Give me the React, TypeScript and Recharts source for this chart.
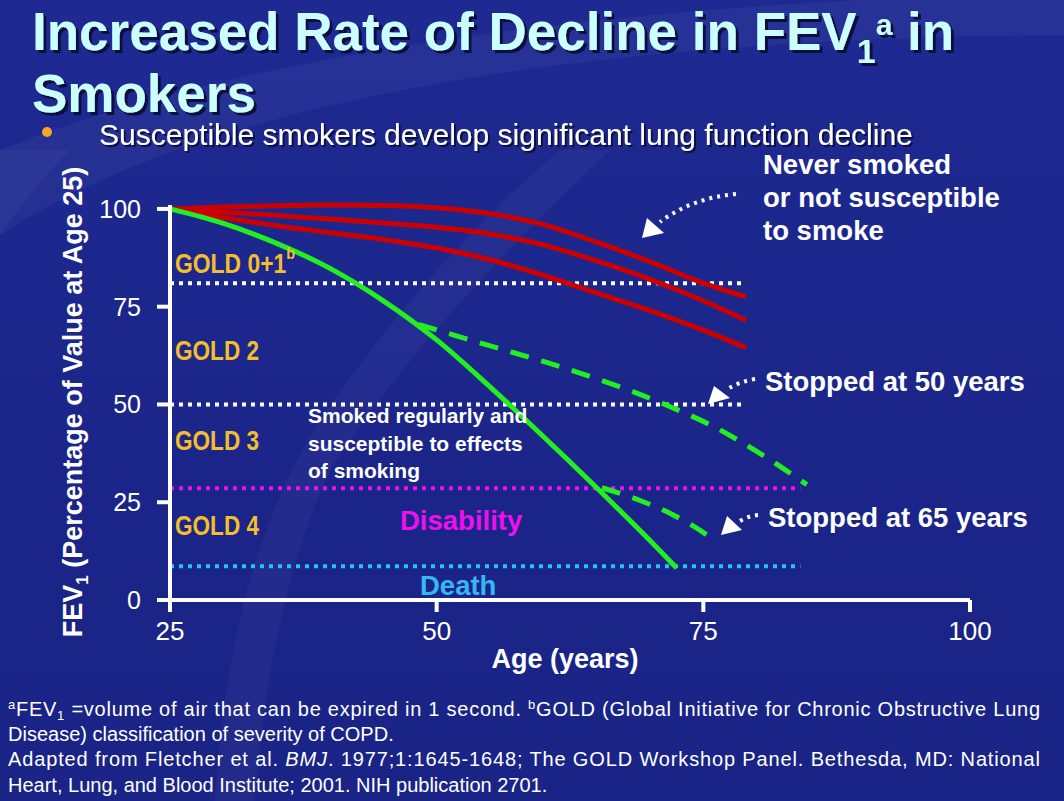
import { LineChart, Line, XAxis, YAxis, ReferenceLine } from 'recharts'

// never smoked / not susceptible (three red curves)
const neverAges = [25, 30, 35, 40, 45, 50, 55, 60, 65, 70, 75, 79]
const neverTop = [100, 100.5, 100.8, 101, 100.9, 100.3, 98.8, 96, 91.5, 86.5, 81, 77.5]
const neverMid = [100, 99.2, 98.3, 97.4, 96.4, 95.3, 93.6, 90.8, 86.7, 82, 76.5, 71.5]
const neverLow = [100, 97.8, 95.7, 93.9, 92.2, 90, 87, 83, 78.5, 74, 69, 64.5]

// smoked regularly and susceptible
const smokerAges = [25, 30, 35, 40, 45, 50, 55, 60, 65, 70, 72.5]
const smokerFev = [100, 96.3, 91.2, 84.8, 76.5, 66.5, 54.5, 41.8, 28.7, 15.2, 8.2]

// stopped at 50
const stop50Ages = [48.3, 52, 56, 60, 64, 68, 72, 76, 80, 84.7]
const stop50Fev = [70.5, 67.4, 64.2, 61, 57.5, 53.7, 49.3, 44.3, 38, 29.5]

// stopped at 65
const stop65Ages = [65.5, 69, 72, 74, 76.1]
const stop65Fev = [28.7, 25.5, 22, 19, 15.2]

// thresholds
const goldCut = 81
const gold2Cut = 50
const disability = 28.6
const death = 8.6
const shortEnd = 78.6
const longEnd = 84.1

const xTicks = [25, 50, 75, 100]
const yTicks = [0, 25, 50, 75, 100]

const pts = (ages: number[], vals: number[]) => ages.map((a, i) => ({ age: a, v: vals[i] }))

const FONT = '"Liberation Sans", Arial, sans-serif'
const RED = '#CC0000'
const GREEN = '#22EE22'

function Background() {
  return (
    <svg width={1064} height={801} style={{ position: 'absolute', left: 0, top: 0 }}>
      <path d="M0,235 Q300,40 1064,35 L1064,0 L860,0 Q300,30 0,150 Z" fill="#ffffff" opacity={0.04} />
      <path d="M610,150 Q420,330 330,470 Q270,600 255,801 L215,801 Q230,560 320,420 Q430,260 560,150 Z" fill="#ffffff" opacity={0.035} />
      <path d="M0,150 L70,150 Q30,190 0,235 Z" fill="#ffffff" opacity={0.035} />
    </svg>
  )
}

function Overlay() {
  const white = '#ffffff'
  return (
    <svg width={1064} height={801} style={{ position: 'absolute', left: 0, top: 0, pointerEvents: 'none' }} fontFamily={FONT}>
      <defs>
        <filter id="shadow" x="-5%" y="-20%" width="110%" height="150%">
          <feDropShadow dx={3} dy={3} stdDeviation={0.6} floodColor="#0b0f40" floodOpacity={1} />
        </filter>
        <filter id="shadowSmall" x="-5%" y="-20%" width="110%" height="150%">
          <feDropShadow dx={2} dy={2} stdDeviation={0.5} floodColor="#0b0f40" floodOpacity={1} />
        </filter>
      </defs>
      {/* title */}
      <g fontSize={53} fontWeight="bold" fill="#CCFFFF" filter="url(#shadow)">
        <text x={32} y={50}>
          Increased Rate of Decline in FEV<tspan fontSize={34} dy={13}>1</tspan>
          <tspan fontSize={30} dy={-28}>a</tspan>
          <tspan dy={15}> in</tspan>
        </text>
        <text x={32} y={112}>Smokers</text>
      </g>
      {/* bullet */}
      <circle cx={47} cy={132} r={5} fill="#F5A623" />
      <text x={99} y={145} fontSize={30} fill={white} filter="url(#shadowSmall)">
        Susceptible smokers develop significant lung function decline
      </text>

      {/* axis titles */}
      <text transform="translate(82,402) rotate(-90)" textAnchor="middle" fontSize={27} fontWeight="bold" fill={white}>
        FEV<tspan fontSize={17} dy={6}>1</tspan>
        <tspan dy={-6}> (Percentage of Value at Age 25)</tspan>
      </text>
      <text x={565} y={668} textAnchor="middle" fontSize={27} fontWeight="bold" fill={white}>
        Age (years)
      </text>

      {/* GOLD bands */}
      <g fontSize={27} fontWeight="bold" fill="#F2BE2C">
        <text x={175} y={273} textLength={120} lengthAdjust="spacingAndGlyphs">
          GOLD 0+1<tspan fontSize={17} dy={-14}>b</tspan>
        </text>
        <text x={175} y={360} textLength={84} lengthAdjust="spacingAndGlyphs">GOLD 2</text>
        <text x={175} y={450} textLength={84} lengthAdjust="spacingAndGlyphs">GOLD 3</text>
        <text x={175} y={535} textLength={84} lengthAdjust="spacingAndGlyphs">GOLD 4</text>
      </g>

      <g fontSize={21} fontWeight="bold" fill={white}>
        <text x={308} y={423}>Smoked regularly and</text>
        <text x={308} y={451}>susceptible to effects</text>
        <text x={308} y={478}>of smoking</text>
      </g>
      <text x={400} y={530} fontSize={27.5} fontWeight="bold" fill="#EE10EE">Disability</text>
      <text x={420} y={595} fontSize={27.5} fontWeight="bold" fill="#35B8F0">Death</text>

      <g fontSize={27.5} fontWeight="bold" fill={white}>
        <text x={763} y={174}>Never smoked</text>
        <text x={763} y={207}>or not susceptible</text>
        <text x={763} y={240}>to smoke</text>
        <text x={765} y={391}>Stopped at 50 years</text>
        <text x={768} y={527}>Stopped at 65 years</text>
      </g>

      {/* arrows */}
      <g stroke={white} strokeWidth={4} fill="none" strokeDasharray="3 5">
        <path d="M736,194 Q692,198 660,222" />
        <path d="M755,379 Q738,382 726,390" />
        <path d="M758,515 Q748,516 740,521" />
      </g>
      <g fill={white}>
        <polygon points="642,238 647,218 664,233" />
        <polygon points="708,404 714,386 730,398" />
        <polygon points="721,535 727,516 742,530" />
      </g>

      {/* footnote */}
      <g fontSize={20} fill={white}>
        <text x={8} y={716} textLength={1032} lengthAdjust="spacing">
          <tspan fontSize={13} dy={-7}>a</tspan>
          <tspan dy={7}>FEV</tspan>
          <tspan fontSize={13} dy={4}>1</tspan>
          <tspan dy={-4}> =volume of air that can be expired in 1 second. </tspan>
          <tspan fontSize={13} dy={-7}>b</tspan>
          <tspan dy={7}>GOLD (Global Initiative for Chronic Obstructive Lung</tspan>
        </text>
        <text x={8} y={741}>Disease) classification of severity of COPD.</text>
        <text x={8} y={766} textLength={1032} lengthAdjust="spacing">
          Adapted from Fletcher et al. <tspan fontStyle="italic">BMJ</tspan>. 1977;1:1645-1648; The GOLD Workshop Panel. Bethesda, MD: National
        </text>
        <text x={8} y={792}>Heart, Lung, and Blood Institute; 2001. NIH publication 2701.</text>
      </g>
    </svg>
  )
}

export default function App() {
  return (
    <div
      style={{
        position: 'absolute',
        left: 0,
        top: 0,
        width: 1064,
        height: 801,
        overflow: 'hidden',
        background: 'linear-gradient(180deg, #1E2A92 0%, #1B2589 60%, #1A2486 100%)',
        fontFamily: FONT,
      }}
    >
      <Background />
      <div style={{ position: 'absolute', left: 0, top: 0 }}>
        <LineChart width={1064} height={801} margin={{ top: 205, right: 94, bottom: 0, left: 0 }}>
          <XAxis
            type="number"
            dataKey="age"
            domain={[25, 100]}
            ticks={xTicks}
            height={201}
            axisLine={{ stroke: '#fff', strokeWidth: 4 }}
            tickLine={{ stroke: '#fff', strokeWidth: 4 }}
            tickSize={12}
            tickMargin={10}
            tick={{ fill: '#fff', fontSize: 26, fontFamily: FONT }}
            allowDuplicatedCategory={false}
          />
          <YAxis
            type="number"
            domain={[0, 100]}
            ticks={yTicks}
            width={170}
            axisLine={{ stroke: '#fff', strokeWidth: 4 }}
            tickLine={{ stroke: '#fff', strokeWidth: 4 }}
            tickSize={13}
            tickMargin={16}
            tick={{ fill: '#fff', fontSize: 25, fontFamily: FONT }}
          />
          <ReferenceLine segment={[{ x: 25, y: goldCut }, { x: shortEnd, y: goldCut }]} stroke="#fff" strokeWidth={4} strokeDasharray="4 5" />
          <ReferenceLine segment={[{ x: 25, y: gold2Cut }, { x: shortEnd, y: gold2Cut }]} stroke="#fff" strokeWidth={4} strokeDasharray="4 5" />
          <ReferenceLine segment={[{ x: 25, y: disability }, { x: longEnd, y: disability }]} stroke="#EE10EE" strokeWidth={4} strokeDasharray="4 5" />
          <ReferenceLine segment={[{ x: 25, y: death }, { x: longEnd, y: death }]} stroke="#22C4F4" strokeWidth={4} strokeDasharray="4 5" />
          <Line data={pts(neverAges, neverTop)} dataKey="v" type="monotone" stroke={RED} strokeWidth={5} dot={false} isAnimationActive={false} />
          <Line data={pts(neverAges, neverMid)} dataKey="v" type="monotone" stroke={RED} strokeWidth={5} dot={false} isAnimationActive={false} />
          <Line data={pts(neverAges, neverLow)} dataKey="v" type="monotone" stroke={RED} strokeWidth={5} dot={false} isAnimationActive={false} />
          <Line data={pts(stop50Ages, stop50Fev)} dataKey="v" type="monotone" stroke={GREEN} strokeWidth={5} strokeDasharray="19 13" dot={false} isAnimationActive={false} />
          <Line data={pts(stop65Ages, stop65Fev)} dataKey="v" type="monotone" stroke={GREEN} strokeWidth={5} strokeDasharray="19 13" dot={false} isAnimationActive={false} />
          <Line data={pts(smokerAges, smokerFev)} dataKey="v" type="monotone" stroke={GREEN} strokeWidth={5} dot={false} isAnimationActive={false} />
        </LineChart>
      </div>
      <Overlay />
    </div>
  )
}
